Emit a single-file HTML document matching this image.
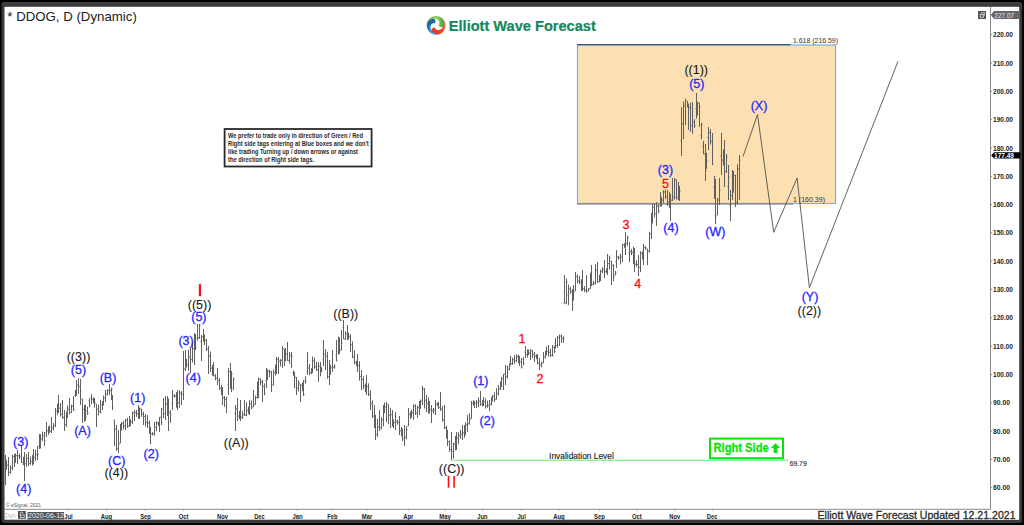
<!DOCTYPE html>
<html><head><meta charset="utf-8"><style>
html,body{margin:0;padding:0;background:#000;width:1024px;height:525px;overflow:hidden}
svg{display:block}
text{font-family:"Liberation Sans",sans-serif}
</style></head><body>
<svg width="1024" height="525" viewBox="0 0 1024 525">
<rect width="1024" height="525" fill="#000"/>
<rect x="1.5" y="2" width="520.6" height="521" rx="3" fill="#3a3a3a"/>
<rect x="503" y="2" width="519.1" height="521" rx="3" fill="#3a3a3a"/>
<rect x="2.5" y="2.5" width="1019" height="1.2" fill="#444"/>
<rect x="4.5" y="6.8" width="1014.7" height="512.9" fill="#fff"/>
<!-- orange box -->
<rect x="577.5" y="45" width="258" height="158.5" fill="#fde0b2" stroke="#6ab4f0" stroke-width="1.2"/>
<rect x="577" y="203" width="216" height="1.6" fill="#8c8c8c"/>
<line x1="577" y1="44.6" x2="790.5" y2="44.6" stroke="#4a5060" stroke-width="1.2"/>

<text x="793" y="43.3" font-size="7.6" fill="#333" textLength="45" lengthAdjust="spacingAndGlyphs">1.618 (216.59)</text>
<text x="793" y="202" font-size="7" fill="#333" textLength="32" lengthAdjust="spacingAndGlyphs">1 (160.39)</text>
<!-- invalidation -->
<line x1="451.7" y1="460.2" x2="788.4" y2="460.2" stroke="#6aeb6a" stroke-width="1.1"/>
<text x="549.1" y="458.8" font-size="9.5" fill="#222" stroke="#222" stroke-width="0.15" textLength="64.7" lengthAdjust="spacingAndGlyphs">Invalidation Level</text>
<text x="789.7" y="466" font-size="7" fill="#333" stroke="#333" stroke-width="0.15" textLength="17" lengthAdjust="spacingAndGlyphs">69.79</text>
<!-- right side -->
<rect x="710" y="438.6" width="73" height="19.6" fill="none" stroke="#0ae40a" stroke-width="2"/>
<text x="713.5" y="452.2" font-size="13" font-weight="bold" fill="#0ae40a" stroke="#0ae40a" stroke-width="0.3" textLength="55.2" lengthAdjust="spacingAndGlyphs">Right Side</text>
<path d="M775.5 443.3 L780.2 448 L777.4 448 L777.4 452.9 L773.6 452.9 L773.6 448 L770.8 448 Z" fill="#0ae40a"/>
<!-- bars -->
<path d="M5.50 455.0V485.0M4.50 470.0h1M5.50 467.6h1M6.50 459.8V469.7M5.50 467.6h1M6.50 465.0h1M8.50 457.0V476.0M7.50 465.0h1M8.50 472.3h1M10.50 465.3V473.8M9.50 472.3h1M10.50 467.7h1M12.50 454.7V470.1M11.50 467.7h1M12.50 456.4h1M14.50 454.0V467.0M13.50 456.4h1M14.50 461.0h1M15.50 453.3V462.9M14.50 461.0h1M15.50 455.5h1M17.50 450.0V464.0M16.50 455.5h1M17.50 455.8h1M19.50 453.6V459.3M18.50 455.8h1M19.50 456.3h1M21.50 445.0V463.0M20.50 456.3h1M21.50 462.4h1M23.50 456.7V465.1M22.50 462.4h1M23.50 461.2h1M24.50 452.0V481.0M23.50 461.2h1M24.50 463.8h1M26.50 454.1V466.7M25.50 463.8h1M26.50 458.6h1M28.50 452.0V466.0M27.50 458.6h1M28.50 463.5h1M30.50 456.6V464.8M29.50 463.5h1M30.50 461.5h1M32.50 455.1V465.4M31.50 461.5h1M32.50 463.7h1M33.50 449.0V464.2M32.50 463.7h1M33.50 457.6h1M35.50 449.7V460.9M34.50 457.6h1M35.50 454.6h1M37.50 446.0V460.0M36.50 454.6h1M37.50 454.5h1M39.50 434.0V449.0M38.50 446.1h1M39.50 446.9h1M40.50 434.1V448.5M39.50 446.9h1M40.50 438.8h1M42.50 431.6V441.2M41.50 438.8h1M42.50 435.7h1M44.50 432.0V446.0M43.50 435.7h1M44.50 440.4h1M46.50 422.0V437.0M45.50 432.4h1M46.50 430.8h1M48.50 426.4V434.8M47.50 430.8h1M48.50 429.5h1M49.50 425.5V433.0M48.50 429.5h1M49.50 431.4h1M51.50 417.0V433.0M50.50 431.4h1M51.50 427.7h1M53.50 423.2V430.4M52.50 427.7h1M53.50 425.8h1M55.50 408.0V427.0M54.50 425.8h1M55.50 411.0h1M57.50 403.7V415.2M56.50 411.0h1M57.50 412.1h1M58.50 395.0V413.0M57.50 412.1h1M58.50 408.2h1M60.50 403.0V416.6M59.50 408.2h1M60.50 414.2h1M62.50 400.0V419.0M61.50 414.2h1M62.50 417.3h1M64.50 410.0V431.0M63.50 417.3h1M64.50 424.7h1M66.50 411.6V426.9M65.50 424.7h1M66.50 414.2h1M67.50 405.3V418.3M66.50 414.2h1M67.50 409.2h1M69.50 398.0V414.4M68.50 409.2h1M69.50 412.6h1M71.50 404.6V412.9M70.50 412.6h1M71.50 406.2h1M73.50 396.0V411.0M72.50 406.2h1M73.50 409.8h1M75.50 389.9V396.9M74.50 395.0h1M75.50 392.1h1M76.50 380.0V396.0M75.50 392.1h1M76.50 385.0h1M78.50 378.0V394.0M77.50 385.0h1M78.50 386.7h1M80.50 379.0V405.0M79.50 386.7h1M80.50 391.2h1M82.50 399.0V423.0M81.50 399.0h1M82.50 409.4h1M84.50 404.8V421.6M83.50 409.4h1M84.50 418.9h1M85.50 405.0V421.0M84.50 418.9h1M85.50 417.3h1M87.50 406.6V414.9M86.50 410.7h1M87.50 413.3h1M89.50 398.2V407.3M88.50 400.7h1M89.50 405.1h1M91.50 394.3V404.0M90.50 398.0h1M91.50 399.6h1M93.50 397.5V403.3M92.50 399.6h1M93.50 402.0h1M94.50 398.0V407.7M93.50 402.0h1M94.50 402.2h1M96.50 404.0V427.0M95.50 404.0h1M96.50 409.2h1M98.50 404.8V415.4M97.50 409.2h1M98.50 411.4h1M100.50 400.0V413.0M99.50 411.4h1M100.50 413.0h1M102.50 401.1V410.0M101.50 404.9h1M102.50 403.6h1M103.50 395.5V405.5M102.50 403.6h1M103.50 398.0h1M105.50 390.0V402.0M104.50 398.0h1M105.50 394.2h1M107.50 389.0V395.5M106.50 394.2h1M107.50 390.7h1M109.50 384.0V395.0M108.50 390.7h1M109.50 390.4h1M111.50 387.5V400.0M110.50 390.4h1M111.50 389.1h1M112.50 395.0V410.0M111.50 399.2h1M112.50 406.6h1M114.50 420.0V446.0M113.50 420.0h1M114.50 429.1h1M116.50 424.9V450.8M115.50 429.1h1M116.50 448.7h1M118.50 430.0V453.0M117.50 448.7h1M118.50 444.0h1M120.50 424.0V443.0M119.50 443.0h1M120.50 429.3h1M121.50 422.0V430.7M120.50 429.3h1M121.50 423.8h1M123.50 420.7V429.3M122.50 423.8h1M123.50 426.3h1M125.50 419.0V430.0M124.50 426.3h1M125.50 420.0h1M127.50 417.9V428.0M126.50 420.0h1M127.50 426.3h1M129.50 416.0V427.0M128.50 426.3h1M129.50 424.2h1M130.50 419.3V426.0M129.50 424.2h1M130.50 421.5h1M132.50 411.6V424.1M131.50 421.5h1M132.50 413.2h1M134.50 410.0V421.0M133.50 413.2h1M134.50 412.5h1M136.50 409.8V416.9M135.50 412.5h1M136.50 413.7h1M138.50 405.0V419.0M137.50 413.7h1M138.50 416.1h1M139.50 407.4V418.9M138.50 416.1h1M139.50 409.0h1M141.50 408.9V416.8M140.50 409.0h1M141.50 414.1h1M143.50 411.8V425.0M142.50 414.1h1M143.50 416.4h1M145.50 414.1V426.5M144.50 416.4h1M145.50 422.3h1M147.50 415.0V428.0M146.50 422.3h1M147.50 423.3h1M149.50 420.6V433.6M148.50 423.3h1M149.50 431.0h1M150.50 426.8V444.0M149.50 431.0h1M150.50 433.7h1M152.50 432.2V435.5M151.50 433.7h1M152.50 433.8h1M154.50 422.0V435.6M153.50 433.8h1M154.50 427.3h1M156.50 421.2V431.4M155.50 427.3h1M156.50 423.1h1M158.50 421.7V426.0M157.50 423.1h1M158.50 423.7h1M159.50 417.0V432.0M158.50 423.7h1M159.50 417.3h1M161.50 408.0V425.0M160.50 417.3h1M161.50 422.6h1M163.50 398.0V418.0M162.50 409.1h1M163.50 413.6h1M165.50 396.0V420.0M164.50 413.6h1M165.50 404.1h1M167.50 396.1V416.0M166.50 404.1h1M167.50 398.8h1M168.50 399.0V431.0M167.50 399.0h1M168.50 412.6h1M170.50 410.1V422.8M169.50 412.6h1M170.50 414.3h1M172.50 390.0V410.0M171.50 403.4h1M172.50 395.9h1M174.50 394.2V397.5M173.50 395.9h1M174.50 396.3h1M176.50 392.1V407.7M175.50 396.3h1M176.50 401.2h1M177.50 390.0V410.0M176.50 401.2h1M177.50 402.8h1M179.50 390.3V407.7M178.50 402.8h1M179.50 392.9h1M181.50 391.1V405.0M180.50 392.9h1M181.50 394.3h1M183.50 351.0V400.0M182.50 394.3h1M183.50 368.9h1M185.50 350.0V371.0M184.50 368.9h1M185.50 361.4h1M186.50 358.9V367.5M185.50 361.4h1M186.50 364.2h1M188.50 349.7V370.6M187.50 364.2h1M188.50 356.9h1M190.50 348.0V373.0M189.50 356.9h1M190.50 359.4h1M192.50 341.4V362.4M191.50 359.4h1M192.50 348.6h1M194.50 333.0V365.0M193.50 348.6h1M194.50 347.6h1M195.50 334.0V350.0M194.50 347.6h1M195.50 347.0h1M197.50 324.0V340.8M196.50 338.1h1M197.50 338.0h1M199.50 324.0V339.0M198.50 338.0h1M199.50 325.3h1M201.50 335.0V361.0M200.50 341.6h1M201.50 336.9h1M203.50 329.0V341.6M202.50 336.9h1M203.50 334.7h1M204.50 335.0V345.0M203.50 335.0h1M204.50 340.4h1M206.50 339.0V351.0M205.50 340.4h1M206.50 348.9h1M208.50 346.0V374.0M207.50 348.9h1M208.50 356.1h1M210.50 351.5V372.1M209.50 356.1h1M210.50 368.2h1M212.50 364.9V375.7M211.50 368.2h1M212.50 373.5h1M213.50 362.0V376.0M212.50 373.5h1M213.50 375.9h1M215.50 374.2V380.3M214.50 375.9h1M215.50 378.4h1M217.50 368.0V385.0M216.50 378.4h1M217.50 380.6h1M219.50 378.0V390.0M218.50 380.6h1M219.50 388.0h1M221.50 384.8V395.1M220.50 388.0h1M221.50 392.1h1M222.50 387.0V405.0M221.50 392.1h1M222.50 397.8h1M224.50 396.0V406.9M223.50 397.8h1M224.50 399.3h1M226.50 397.0V413.0M225.50 399.3h1M226.50 397.8h1M228.50 368.0V395.0M227.50 384.2h1M228.50 371.4h1M230.50 363.0V389.0M229.50 371.4h1M230.50 378.6h1M231.50 371.0V392.0M230.50 378.6h1M231.50 374.0h1M233.50 377.4V390.3M232.50 388.0h1M233.50 379.4h1M235.50 405.0V431.0M234.50 413.5h1M235.50 408.7h1M237.50 398.0V421.0M236.50 408.7h1M237.50 416.1h1M239.50 410.9V419.3M238.50 416.1h1M239.50 417.5h1M240.50 400.0V421.0M239.50 417.5h1M240.50 417.3h1M242.50 410.7V419.0M241.50 417.3h1M242.50 414.7h1M244.50 400.0V416.0M243.50 414.7h1M244.50 415.0h1M246.50 402.3V416.0M245.50 415.0h1M246.50 410.3h1M248.50 406.5V413.9M247.50 410.3h1M248.50 412.7h1M249.50 400.0V415.0M248.50 412.7h1M249.50 403.7h1M251.50 400.4V409.2M250.50 403.7h1M251.50 407.9h1M253.50 390.0V407.0M252.50 407.0h1M253.50 405.2h1M255.50 395.6V404.6M254.50 404.6h1M255.50 397.5h1M257.50 381.8V398.7M256.50 397.5h1M257.50 385.1h1M258.50 377.4V398.0M257.50 385.1h1M258.50 379.4h1M260.50 378.3V385.3M259.50 379.4h1M260.50 382.0h1M262.50 379.9V402.0M261.50 382.0h1M262.50 386.5h1M264.50 383.4V395.3M263.50 386.5h1M264.50 393.3h1M266.50 368.0V388.0M265.50 380.3h1M266.50 375.5h1M267.50 369.3V379.9M266.50 375.5h1M267.50 371.1h1M269.50 369.9V377.2M268.50 371.1h1M269.50 371.9h1M271.50 371.0V392.0M270.50 371.9h1M271.50 385.1h1M273.50 369.6V385.1M272.50 385.1h1M273.50 372.4h1M275.50 364.5V375.6M274.50 372.4h1M275.50 366.8h1M276.50 357.0V374.0M275.50 366.8h1M276.50 359.6h1M278.50 357.0V374.0M277.50 359.6h1M278.50 361.3h1M280.50 359.1V366.3M279.50 361.3h1M280.50 360.4h1M282.50 346.2V368.0M281.50 360.4h1M282.50 348.3h1M284.50 349.0V366.0M283.50 349.0h1M284.50 358.8h1M285.50 348.0V361.3M284.50 358.8h1M285.50 354.0h1M287.50 342.0V361.0M286.50 354.0h1M287.50 360.5h1M289.50 351.9V363.7M288.50 360.5h1M289.50 355.3h1M291.50 352.0V368.0M290.50 355.3h1M291.50 356.6h1M293.50 370.4V375.8M292.50 372.4h1M293.50 374.5h1M294.50 372.0V388.0M293.50 374.5h1M294.50 377.3h1M296.50 377.0V395.0M295.50 377.3h1M296.50 388.0h1M298.50 380.5V391.4M297.50 388.0h1M298.50 382.8h1M300.50 384.0V402.0M299.50 384.0h1M300.50 385.3h1M302.50 382.6V391.3M301.50 385.3h1M302.50 388.9h1M303.50 380.0V396.0M302.50 388.9h1M303.50 394.6h1M305.50 376.2V383.4M304.50 380.8h1M305.50 381.5h1M307.50 352.0V375.0M306.50 372.0h1M307.50 368.0h1M309.50 364.0V375.3M308.50 368.0h1M309.50 372.7h1M311.50 368.1V374.2M310.50 372.7h1M311.50 369.8h1M312.50 356.5V373.0M311.50 369.8h1M312.50 360.9h1M314.50 357.6V368.7M313.50 360.9h1M314.50 366.9h1M316.50 361.9V371.0M315.50 366.9h1M316.50 369.7h1M318.50 362.0V382.0M317.50 369.7h1M318.50 366.2h1M320.50 362.1V376.3M319.50 366.2h1M320.50 368.5h1M321.50 367.2V372.2M320.50 368.5h1M321.50 370.1h1M323.50 340.0V366.0M322.50 359.1h1M323.50 354.3h1M325.50 349.0V370.1M324.50 354.3h1M325.50 356.4h1M327.50 351.8V378.8M326.50 356.4h1M327.50 376.6h1M329.50 360.0V385.0M328.50 376.6h1M329.50 370.7h1M330.50 364.8V374.8M329.50 370.7h1M330.50 367.8h1M332.50 350.0V372.0M331.50 367.8h1M332.50 367.2h1M334.50 364.2V368.8M333.50 367.2h1M334.50 366.7h1M336.50 340.0V361.0M335.50 355.4h1M336.50 361.0h1M338.50 336.5V354.8M337.50 351.9h1M338.50 340.3h1M339.50 337.4V354.0M338.50 340.3h1M339.50 350.3h1M341.50 330.0V350.0M340.50 350.0h1M341.50 343.5h1M343.50 320.0V339.0M342.50 327.8h1M343.50 339.0h1M345.50 331.3V339.8M344.50 339.0h1M345.50 333.9h1M347.50 325.0V340.0M346.50 333.9h1M347.50 337.3h1M348.50 332.5V339.5M347.50 337.3h1M348.50 336.3h1M350.50 334.3V352.0M349.50 336.3h1M350.50 344.7h1M352.50 341.4V358.2M351.50 344.7h1M352.50 357.0h1M354.50 350.0V364.4M353.50 357.0h1M354.50 362.5h1M356.50 360.8V366.2M355.50 362.5h1M356.50 363.8h1M357.50 354.0V372.0M356.50 363.8h1M357.50 365.7h1M359.50 361.3V380.7M358.50 365.7h1M359.50 376.5h1M361.50 370.0V390.0M360.50 376.5h1M361.50 379.6h1M363.50 376.2V389.2M362.50 379.6h1M363.50 385.8h1M365.50 383.5V392.3M364.50 385.8h1M365.50 389.4h1M366.50 375.0V395.0M365.50 389.4h1M366.50 386.4h1M368.50 383.3V396.0M367.50 386.4h1M368.50 394.4h1M370.50 390.0V410.0M369.50 394.4h1M370.50 403.7h1M372.50 400.5V417.9M371.50 403.7h1M372.50 416.1h1M374.50 405.0V428.0M373.50 416.1h1M374.50 419.0h1M375.50 414.8V440.0M374.50 419.0h1M375.50 434.4h1M377.50 418.7V437.0M376.50 434.4h1M377.50 427.0h1M379.50 410.0V431.0M378.50 427.0h1M379.50 427.9h1M381.50 417.1V429.4M380.50 427.9h1M381.50 419.8h1M383.50 405.1V426.3M382.50 419.8h1M383.50 407.0h1M384.50 402.6V413.0M383.50 407.0h1M384.50 406.8h1M386.50 401.9V422.0M385.50 406.8h1M386.50 403.9h1M388.50 404.6V424.2M387.50 404.6h1M388.50 415.2h1M390.50 408.0V428.0M389.50 415.2h1M390.50 414.7h1M392.50 410.1V426.5M391.50 414.7h1M392.50 421.4h1M393.50 419.4V428.2M392.50 421.4h1M393.50 422.7h1M395.50 412.0V430.0M394.50 422.7h1M395.50 421.2h1M397.50 419.7V424.7M396.50 421.2h1M397.50 422.4h1M399.50 416.0V435.0M398.50 422.4h1M399.50 430.8h1M401.50 427.0V436.4M400.50 430.8h1M401.50 434.9h1M402.50 428.4V441.1M401.50 434.9h1M402.50 438.6h1M404.50 425.0V446.0M403.50 438.6h1M404.50 436.9h1M406.50 426.2V439.4M405.50 436.9h1M406.50 429.7h1M408.50 408.0V426.0M407.50 426.0h1M408.50 414.2h1M410.50 411.4V418.9M409.50 414.2h1M410.50 415.1h1M411.50 409.8V417.6M410.50 415.1h1M411.50 412.7h1M413.50 404.2V420.0M412.50 412.7h1M413.50 406.0h1M415.50 404.4V415.0M414.50 406.0h1M415.50 413.0h1M417.50 405.7V417.8M416.50 413.0h1M417.50 407.6h1M419.50 401.0V415.0M418.50 407.6h1M419.50 404.9h1M420.50 399.5V408.9M419.50 404.9h1M420.50 401.2h1M422.50 386.0V405.0M421.50 401.2h1M422.50 389.0h1M424.50 388.2V408.5M423.50 389.0h1M424.50 400.2h1M426.50 395.0V412.0M425.50 400.2h1M426.50 403.7h1M428.50 397.4V413.7M427.50 403.7h1M428.50 408.8h1M429.50 401.0V413.4M428.50 408.8h1M429.50 409.7h1M431.50 405.0V423.0M430.50 409.7h1M431.50 410.7h1M433.50 408.1V413.4M432.50 410.7h1M433.50 410.0h1M435.50 400.0V415.0M434.50 410.0h1M435.50 404.1h1M437.50 402.7V406.2M436.50 404.1h1M437.50 404.5h1M438.50 401.8V409.0M437.50 404.5h1M438.50 407.4h1M440.50 392.0V411.0M439.50 407.4h1M440.50 409.0h1M442.50 406.1V421.8M441.50 409.0h1M442.50 419.8h1M444.50 405.0V429.0M443.50 419.8h1M444.50 427.8h1M446.50 425.6V438.7M445.50 427.8h1M446.50 436.8h1M447.50 430.0V446.0M446.50 436.8h1M447.50 441.6h1M449.50 440.3V451.9M448.50 441.6h1M449.50 449.6h1M451.50 432.0V460.0M450.50 449.6h1M451.50 451.4h1M453.50 442.6V458.6M452.50 451.4h1M453.50 444.0h1M455.50 436.0V450.3M454.50 444.0h1M455.50 439.8h1M456.50 432.0V450.0M455.50 439.8h1M456.50 438.1h1M458.50 432.1V444.3M457.50 438.1h1M458.50 435.5h1M460.50 429.9V438.7M459.50 435.5h1M460.50 434.5h1M462.50 425.0V440.0M461.50 434.5h1M462.50 432.9h1M464.50 425.1V437.8M463.50 432.9h1M464.50 434.9h1M465.50 422.2V434.9M464.50 434.9h1M465.50 424.8h1M467.50 415.0V432.0M466.50 424.8h1M467.50 423.8h1M469.50 413.3V424.6M468.50 423.8h1M469.50 419.0h1M471.50 401.0V418.6M470.50 418.6h1M471.50 403.2h1M473.50 400.2V405.5M472.50 403.2h1M473.50 404.1h1M474.50 401.1V408.0M473.50 404.1h1M474.50 403.2h1M476.50 400.0V408.0M475.50 403.2h1M476.50 402.4h1M478.50 397.3V407.2M477.50 402.4h1M478.50 401.1h1M480.50 391.0V405.7M479.50 401.1h1M480.50 404.4h1M482.50 399.9V406.5M481.50 404.4h1M482.50 403.1h1M483.50 397.0V406.0M482.50 403.1h1M483.50 401.5h1M485.50 398.4V408.6M484.50 401.5h1M485.50 406.0h1M487.50 400.6V407.7M486.50 406.0h1M487.50 405.4h1M489.50 400.0V411.0M488.50 405.4h1M489.50 404.1h1M491.50 397.2V405.4M490.50 404.1h1M491.50 399.1h1M492.50 395.1V401.5M491.50 399.1h1M492.50 396.4h1M494.50 392.4V402.0M493.50 396.4h1M494.50 399.0h1M496.50 388.2V399.6M495.50 399.0h1M496.50 393.5h1M498.50 385.0V395.6M497.50 393.5h1M498.50 388.8h1M500.50 381.5V390.0M499.50 388.8h1M500.50 383.1h1M501.50 377.0V387.1M500.50 383.1h1M501.50 378.7h1M503.50 374.0V390.0M502.50 378.7h1M503.50 374.0h1M505.50 365.0V385.0M504.50 374.0h1M505.50 376.4h1M507.50 365.6V378.8M506.50 376.4h1M507.50 369.3h1M509.50 363.3V370.2M508.50 369.3h1M509.50 366.0h1M510.50 356.0V365.0M509.50 361.7h1M510.50 363.6h1M512.50 357.8V365.0M511.50 363.6h1M512.50 359.7h1M514.50 355.0V364.0M513.50 359.7h1M514.50 360.7h1M516.50 354.2V362.0M515.50 360.7h1M516.50 356.8h1M518.50 354.6V363.2M517.50 356.8h1M518.50 359.7h1M519.50 356.0V366.0M518.50 359.7h1M519.50 361.8h1M521.50 358.0V368.5M520.50 361.8h1M521.50 367.1h1M523.50 357.1V365.3M522.50 359.4h1M523.50 363.6h1M525.50 346.0V358.0M524.50 352.2h1M525.50 354.6h1M527.50 349.4V357.5M526.50 354.6h1M527.50 352.3h1M528.50 349.5V355.0M527.50 352.3h1M528.50 353.1h1M530.50 349.2V360.0M529.50 353.1h1M530.50 350.7h1M532.50 350.0V358.2M531.50 350.7h1M532.50 354.3h1M534.50 352.0V362.0M533.50 354.3h1M534.50 356.2h1M536.50 354.2V359.1M535.50 356.2h1M536.50 356.2h1M537.50 354.4V364.4M536.50 356.2h1M537.50 363.0h1M539.50 358.0V370.0M538.50 363.0h1M539.50 364.8h1M541.50 361.7V367.3M540.50 364.8h1M541.50 363.3h1M543.50 352.0V363.0M542.50 363.0h1M543.50 356.8h1M545.50 350.7V358.7M544.50 356.8h1M545.50 354.0h1M546.50 346.6V355.4M545.50 354.0h1M546.50 351.2h1M548.50 345.0V356.8M547.50 351.2h1M548.50 352.3h1M550.50 348.9V357.0M549.50 352.3h1M550.50 355.4h1M552.50 345.0V356.6M551.50 355.4h1M552.50 355.1h1M554.50 345.7V353.0M553.50 347.4h1M554.50 351.5h1M555.50 338.0V348.5M554.50 342.9h1M555.50 345.5h1M557.50 335.9V347.8M556.50 345.5h1M557.50 337.6h1M559.50 334.4V346.0M558.50 337.6h1M559.50 336.0h1M561.50 334.7V343.0M560.50 336.0h1M561.50 338.6h1M563.50 336.2V343.0M562.50 338.6h1M563.50 337.8h1M564.50 275.0V303.0M563.50 303.0h1M564.50 303.0h1M566.50 278.4V304.3M565.50 303.0h1M566.50 282.0h1M568.50 284.5V305.0M567.50 294.7h1M568.50 288.9h1M570.50 286.8V293.7M569.50 288.9h1M570.50 291.8h1M572.50 289.0V311.0M571.50 291.8h1M572.50 298.8h1M573.50 285.1V300.7M572.50 298.8h1M573.50 292.2h1M575.50 272.0V291.0M574.50 291.0h1M575.50 276.7h1M577.50 274.5V283.5M576.50 276.7h1M577.50 281.0h1M579.50 276.1V284.3M578.50 281.0h1M579.50 281.7h1M581.50 279.2V291.0M580.50 281.7h1M581.50 289.0h1M582.50 270.0V291.0M581.50 289.0h1M582.50 288.6h1M584.50 286.2V292.0M583.50 288.6h1M584.50 290.1h1M586.50 275.0V292.8M585.50 290.1h1M586.50 290.9h1M588.50 288.1V291.3M587.50 290.9h1M588.50 289.4h1M590.50 272.7V288.8M589.50 288.8h1M590.50 277.8h1M591.50 265.0V286.0M590.50 277.8h1M591.50 284.3h1M593.50 280.8V285.2M592.50 284.3h1M593.50 283.2h1M595.50 264.2V284.3M594.50 283.2h1M595.50 270.1h1M597.50 262.0V283.0M596.50 270.1h1M597.50 281.4h1M599.50 274.8V282.3M598.50 281.4h1M599.50 279.2h1M600.50 269.7V281.1M599.50 279.2h1M600.50 271.2h1M602.50 267.2V273.2M601.50 271.2h1M602.50 269.2h1M604.50 260.0V278.0M603.50 269.2h1M604.50 271.6h1M606.50 268.5V273.2M605.50 271.6h1M606.50 271.0h1M607.50 254.0V275.0M606.50 271.0h1M607.50 263.6h1M609.50 255.6V269.5M608.50 263.6h1M609.50 257.9h1M611.50 261.0V285.0M610.50 261.0h1M611.50 265.6h1M613.50 264.2V281.2M612.50 265.6h1M613.50 276.9h1M615.50 271.0V275.1M614.50 275.1h1M615.50 273.1h1M616.50 250.0V268.0M615.50 261.4h1M616.50 257.0h1M618.50 255.8V259.8M617.50 257.0h1M618.50 257.6h1M620.50 253.7V264.4M619.50 257.6h1M620.50 257.0h1M622.50 244.0V262.0M621.50 257.0h1M622.50 244.6h1M624.50 243.2V247.8M623.50 244.6h1M624.50 244.7h1M625.50 232.0V255.0M624.50 244.7h1M625.50 243.1h1M627.50 235.7V246.1M626.50 243.1h1M627.50 237.6h1M629.50 242.0V262.0M628.50 252.7h1M629.50 251.4h1M631.50 248.8V255.2M630.50 251.4h1M631.50 252.4h1M633.50 246.6V264.3M632.50 252.4h1M633.50 260.4h1M634.50 248.0V272.0M633.50 260.4h1M634.50 264.3h1M636.50 260.3V266.8M635.50 264.3h1M636.50 264.5h1M638.50 255.0V276.0M637.50 264.5h1M638.50 267.4h1M640.50 251.3V272.2M639.50 267.4h1M640.50 253.2h1M642.50 251.5V259.5M641.50 253.2h1M642.50 255.5h1M643.50 244.0V265.0M642.50 255.5h1M643.50 247.4h1M645.50 246.2V249.6M644.50 247.4h1M645.50 248.1h1M647.50 249.0V265.0M646.50 249.0h1M647.50 251.1h1M649.50 231.8V252.4M648.50 251.1h1M649.50 233.7h1M651.50 213.0V239.0M650.50 233.7h1M651.50 223.8h1M652.50 204.0V223.0M651.50 223.0h1M652.50 207.3h1M654.50 203.0V217.4M653.50 207.3h1M654.50 213.7h1M656.50 202.1V226.0M655.50 213.7h1M656.50 206.1h1M658.50 204.6V213.4M657.50 206.1h1M658.50 211.2h1M660.50 192.0V206.0M659.50 206.0h1M660.50 206.0h1M661.50 196.7V206.2M660.50 206.0h1M661.50 200.1h1M663.50 190.1V203.0M662.50 200.1h1M663.50 191.9h1M665.50 189.6V199.2M664.50 191.9h1M665.50 196.8h1M667.50 190.0V206.0M666.50 196.8h1M667.50 202.0h1M669.50 191.8V208.1M668.50 202.0h1M669.50 194.9h1M670.50 194.0V221.0M669.50 194.9h1M670.50 200.2h1M672.50 178.0V201.0M671.50 200.2h1M672.50 197.0h1M674.50 177.9V199.7M673.50 197.0h1M674.50 179.9h1M676.50 179.3V199.5M675.50 179.9h1M676.50 198.1h1M678.50 182.0V200.0M677.50 198.1h1M678.50 193.9h1M679.50 186.0V201.0M678.50 193.9h1M679.50 191.1h1M681.50 107.0V156.0M680.50 140.8h1M681.50 123.7h1M683.50 101.4V139.2M682.50 123.7h1M683.50 105.6h1M685.50 98.6V125.0M684.50 105.6h1M685.50 100.9h1M687.50 101.3V107.5M686.50 101.3h1M687.50 103.6h1M688.50 104.0V130.0M687.50 104.0h1M688.50 107.4h1M690.50 102.7V131.8M689.50 107.4h1M690.50 125.6h1M692.50 102.0V133.7M691.50 125.6h1M692.50 122.0h1M694.50 119.2V128.0M693.50 122.0h1M694.50 125.6h1M696.50 93.0V118.7M695.50 109.0h1M696.50 112.9h1M697.50 101.7V115.6M696.50 112.9h1M697.50 103.0h1M699.50 103.0V127.0M698.50 103.0h1M699.50 106.8h1M701.50 122.7V139.3M700.50 135.7h1M701.50 124.6h1M703.50 141.0V154.0M702.50 146.4h1M703.50 154.0h1M705.50 144.0V181.0M704.50 154.0h1M705.50 171.2h1M706.50 152.8V168.7M705.50 168.7h1M706.50 161.0h1M708.50 127.0V150.0M707.50 137.4h1M708.50 132.7h1M710.50 129.2V144.5M709.50 132.7h1M710.50 141.2h1M712.50 133.0V165.0M711.50 141.2h1M712.50 164.2h1M714.50 176.0V199.0M713.50 187.0h1M714.50 188.5h1M715.50 179.0V224.0M714.50 188.5h1M715.50 217.0h1M717.50 197.8V215.1M716.50 215.1h1M717.50 200.0h1M719.50 178.0V205.0M718.50 200.0h1M719.50 190.4h1M721.50 133.0V175.0M720.50 156.0h1M721.50 160.1h1M723.50 149.4V165.5M722.50 160.1h1M723.50 152.6h1M724.50 140.0V187.0M723.50 152.6h1M724.50 171.6h1M726.50 154.0V173.0M725.50 171.6h1M726.50 157.0h1M728.50 165.0V200.0M727.50 186.4h1M728.50 176.7h1M730.50 190.0V221.0M729.50 205.3h1M730.50 195.7h1M732.50 170.0V200.0M731.50 195.7h1M732.50 186.7h1M733.50 171.0V192.7M732.50 186.7h1M733.50 175.3h1M735.50 175.0V207.0M734.50 175.3h1M735.50 202.0h1M737.50 164.3V204.3M736.50 202.0h1M737.50 168.9h1M739.50 155.0V200.0M738.50 168.9h1M739.50 160.3h1" stroke="#606060" stroke-width="1" fill="none"/>
<!-- projection -->
<polyline points="743,156.5 757.5,114.5 773.7,232.3 797.1,178 809.4,287.7 898,61.3" fill="none" stroke="#505050" stroke-width="0.9"/>
<!-- labels -->
<g font-size="12.5" text-anchor="middle"><text x="20.75" y="445.8" fill="#2626ff" stroke="#2626ff" stroke-width="0.3">(3)</text><text x="23.75" y="493.0" fill="#2626ff" stroke="#2626ff" stroke-width="0.3">(4)</text><text x="78.5" y="374.2" fill="#2626ff" stroke="#2626ff" stroke-width="0.3">(5)</text><text x="78.5" y="360.5" fill="#1a1a1a" stroke="#1a1a1a" stroke-width="0.12">((3))</text><text x="82.5" y="434.5" fill="#2626ff" stroke="#2626ff" stroke-width="0.3">(A)</text><text x="108" y="381.8" fill="#2626ff" stroke="#2626ff" stroke-width="0.3">(B)</text><text x="116.75" y="465.0" fill="#2626ff" stroke="#2626ff" stroke-width="0.3">(C)</text><text x="116.25" y="477.4" fill="#1a1a1a" stroke="#1a1a1a" stroke-width="0.12">((4))</text><text x="137.75" y="402.0" fill="#2626ff" stroke="#2626ff" stroke-width="0.3">(1)</text><text x="151.25" y="457.5" fill="#2626ff" stroke="#2626ff" stroke-width="0.3">(2)</text><text x="186.1" y="344.6" fill="#2626ff" stroke="#2626ff" stroke-width="0.3">(3)</text><text x="193.25" y="382.0" fill="#2626ff" stroke="#2626ff" stroke-width="0.3">(4)</text><text x="198.9" y="320.9" fill="#2626ff" stroke="#2626ff" stroke-width="0.3">(5)</text><text x="199.6" y="308.8" fill="#1a1a1a" stroke="#1a1a1a" stroke-width="0.12">((5))</text><text x="236.25" y="446.5" fill="#1a1a1a" stroke="#1a1a1a" stroke-width="0.12">((A))</text><text x="345.8" y="317.5" fill="#1a1a1a" stroke="#1a1a1a" stroke-width="0.12">((B))</text><text x="451.7" y="473.2" fill="#1a1a1a" stroke="#1a1a1a" stroke-width="0.12">((C))</text><text x="480.8" y="385.1" fill="#2626ff" stroke="#2626ff" stroke-width="0.3">(1)</text><text x="487.2" y="424.6" fill="#2626ff" stroke="#2626ff" stroke-width="0.3">(2)</text><text x="522" y="342.5" fill="#ff0a14" stroke="#ff0a14" stroke-width="0.3">1</text><text x="540" y="382.8" fill="#ff0a14" stroke="#ff0a14" stroke-width="0.3">2</text><text x="625.9" y="229.3" fill="#ff0a14" stroke="#ff0a14" stroke-width="0.3">3</text><text x="637.7" y="288.4" fill="#ff0a14" stroke="#ff0a14" stroke-width="0.3">4</text><text x="665.5" y="188.3" fill="#ff0a14" stroke="#ff0a14" stroke-width="0.3">5</text><text x="665.5" y="173.8" fill="#2626ff" stroke="#2626ff" stroke-width="0.3">(3)</text><text x="671" y="232.2" fill="#2626ff" stroke="#2626ff" stroke-width="0.3">(4)</text><text x="696.2" y="74.4" fill="#1a1a1a" stroke="#1a1a1a" stroke-width="0.12">((1))</text><text x="696.8" y="88.1" fill="#2626ff" stroke="#2626ff" stroke-width="0.3">(5)</text><text x="715.3" y="235.8" fill="#2626ff" stroke="#2626ff" stroke-width="0.3">(W)</text><text x="759" y="110.2" fill="#2626ff" stroke="#2626ff" stroke-width="0.3">(X)</text><text x="810" y="300.9" fill="#2626ff" stroke="#2626ff" stroke-width="0.3">(Y)</text><text x="809.4" y="315.2" fill="#1a1a1a" stroke="#1a1a1a" stroke-width="0.12">((2))</text></g>
<rect x="198.8" y="284.2" width="2.2" height="12" fill="#ff0a14"/>
<rect x="447.7" y="475.9" width="1.6" height="11.8" fill="#ff0a14"/>
<rect x="453.3" y="475.9" width="1.6" height="11.8" fill="#ff0a14"/>
<!-- note box -->
<rect x="224.6" y="129" width="147" height="37.5" fill="#fff" stroke="#2a2a2a" stroke-width="1.8"/>
<g font-size="6.6" font-weight="bold" fill="#2a2a2a">
<text x="228" y="138" textLength="135" lengthAdjust="spacingAndGlyphs">We prefer to trade only in direction of Green / Red</text>
<text x="228" y="146" textLength="140.7" lengthAdjust="spacingAndGlyphs">Right side tags entering at Blue boxes and we don't</text>
<text x="228" y="153.8" textLength="130" lengthAdjust="spacingAndGlyphs">like trading Turning up / down arrows or against</text>
<text x="228" y="162" textLength="86" lengthAdjust="spacingAndGlyphs">the direction of Right side tags.</text>
</g>
<!-- title -->
<text x="7.3" y="21" font-size="13" fill="#222" textLength="129.5" lengthAdjust="spacingAndGlyphs">* DDOG, D (Dynamic)</text>
<!-- logo -->
<defs>
<linearGradient id="gg" x1="0" y1="0" x2="1" y2="0"><stop offset="0" stop-color="#3fa53a"/><stop offset="0.55" stop-color="#9ccf6a"/><stop offset="1" stop-color="#3da83a"/></linearGradient>
<linearGradient id="og" x1="0.7" y1="0" x2="0.2" y2="1"><stop offset="0" stop-color="#f5814d"/><stop offset="1" stop-color="#ee2a1a"/></linearGradient>
<linearGradient id="bg" x1="0.3" y1="0" x2="0.6" y2="1"><stop offset="0" stop-color="#1a4f9e"/><stop offset="1" stop-color="#3cb0e8"/></linearGradient>
</defs><g transform="translate(436.1,25.4)"><path d="M6.04,-7.20 L6.69,-6.61 L7.27,-5.96 L7.79,-5.26 L8.25,-4.51 L8.63,-3.72 L8.94,-2.90 L9.17,-2.06 L9.32,-1.20 L9.39,-0.33 L9.38,0.55 L9.29,1.42 L9.12,2.27 L8.87,3.11 L8.54,3.92 L8.14,4.70 L7.67,5.44 L7.13,6.13 L6.53,6.76 L5.87,7.34 L5.16,7.85 L4.40,8.28 L3.59,8.61 L2.76,8.84 L1.90,8.96 L1.05,8.98 L0.21,8.90 L-0.61,8.72 L-1.39,8.43 L-2.11,8.06 L-2.77,7.61 L-3.42,7.27 L-3.96,6.78 L-4.35,6.16 L-4.57,5.47 L-4.60,4.74 L-4.44,4.02 L-4.11,3.37 L-3.61,2.84 L-3.00,2.44 L-2.30,2.22 L-1.57,2.19 L-0.86,2.35 L-0.73,2.80 L-0.53,3.23 L-0.25,3.62 L0.09,3.95 L0.49,4.23 L0.94,4.44 L1.43,4.59 L1.94,4.65 L2.47,4.64 L2.99,4.55 L3.51,4.39 L4.02,4.17 L4.52,3.88 L5.00,3.55 L5.46,3.15 L5.89,2.70 L6.28,2.20 L6.63,1.65 L6.93,1.06 L7.18,0.42 L7.37,-0.26 L7.49,-0.96 L7.55,-1.70 L7.54,-2.45 L7.46,-3.22 L7.30,-3.99 L7.06,-4.76 L6.75,-5.53 L6.36,-6.29 L5.91,-7.05Z" fill="url(#og)"/><path d="M3.21,8.83 L2.38,9.09 L1.52,9.28 L0.66,9.38 L-0.22,9.40 L-1.09,9.34 L-1.95,9.19 L-2.80,8.97 L-3.62,8.67 L-4.41,8.30 L-5.17,7.85 L-5.87,7.34 L-6.53,6.76 L-7.13,6.13 L-7.67,5.44 L-8.14,4.70 L-8.54,3.92 L-8.87,3.11 L-9.12,2.27 L-9.29,1.42 L-9.38,0.55 L-9.37,-0.33 L-9.25,-1.19 L-9.03,-2.03 L-8.71,-2.83 L-8.30,-3.58 L-7.81,-4.27 L-7.24,-4.89 L-6.61,-5.42 L-5.93,-5.86 L-5.21,-6.20 L-4.59,-6.60 L-3.89,-6.82 L-3.16,-6.85 L-2.45,-6.69 L-1.80,-6.35 L-1.26,-5.86 L-0.87,-5.24 L-0.65,-4.55 L-0.62,-3.82 L-0.78,-3.10 L-1.11,-2.45 L-1.61,-1.92 L-2.06,-2.04 L-2.53,-2.07 L-3.01,-2.03 L-3.47,-1.90 L-3.91,-1.69 L-4.32,-1.40 L-4.69,-1.05 L-5.00,-0.64 L-5.25,-0.18 L-5.44,0.32 L-5.56,0.85 L-5.62,1.40 L-5.63,1.97 L-5.57,2.56 L-5.46,3.15 L-5.29,3.75 L-5.05,4.34 L-4.75,4.92 L-4.38,5.47 L-3.95,6.01 L-3.46,6.51 L-2.91,6.97 L-2.31,7.39 L-1.65,7.76 L-0.94,8.07 L-0.19,8.32 L0.59,8.50 L1.42,8.61 L2.27,8.66 L3.15,8.65Z" fill="url(#bg)"/><path d="M-9.26,-1.63 L-9.07,-2.49 L-8.80,-3.32 L-8.45,-4.12 L-8.03,-4.89 L-7.54,-5.61 L-6.99,-6.29 L-6.37,-6.91 L-5.70,-7.47 L-4.98,-7.97 L-4.22,-8.40 L-3.42,-8.76 L-2.59,-9.04 L-1.74,-9.24 L-0.87,-9.36 L-0.00,-9.40 L0.87,-9.36 L1.74,-9.24 L2.59,-9.04 L3.42,-8.76 L4.22,-8.40 L4.97,-7.95 L5.66,-7.42 L6.27,-6.81 L6.81,-6.13 L7.25,-5.40 L7.60,-4.63 L7.85,-3.83 L8.00,-3.02 L8.04,-2.20 L7.98,-1.41 L8.01,-0.68 L7.85,0.04 L7.51,0.69 L7.02,1.22 L6.40,1.62 L5.71,1.84 L4.98,1.87 L4.26,1.71 L3.61,1.37 L3.07,0.88 L2.68,0.26 L2.46,-0.43 L2.79,-0.77 L3.06,-1.16 L3.26,-1.59 L3.38,-2.06 L3.42,-2.54 L3.38,-3.04 L3.26,-3.53 L3.06,-4.01 L2.79,-4.46 L2.45,-4.87 L2.04,-5.24 L1.60,-5.57 L1.10,-5.86 L0.57,-6.11 L-0.00,-6.31 L-0.60,-6.45 L-1.23,-6.54 L-1.88,-6.57 L-2.55,-6.53 L-3.23,-6.43 L-3.91,-6.25 L-4.58,-6.01 L-5.25,-5.69 L-5.89,-5.31 L-6.52,-4.85 L-7.11,-4.33 L-7.66,-3.74 L-8.17,-3.08 L-8.63,-2.37 L-9.06,-1.60Z" fill="url(#gg)"/></g>
<text x="448.8" y="30.7" font-size="14.5" font-weight="bold" fill="#15875a" stroke="#15875a" stroke-width="0.2" textLength="147" lengthAdjust="spacingAndGlyphs">Elliott Wave Forecast</text>
<!-- axes -->
<line x1="990.5" y1="7" x2="990.5" y2="509.3" stroke="#8a8a8a" stroke-width="1"/>
<line x1="4" y1="509.3" x2="990.5" y2="509.3" stroke="#8a8a8a" stroke-width="1"/>
<line x1="990.5" y1="487.7" x2="992" y2="487.7" stroke="#888" stroke-width="1"/><text x="993" y="490.2" font-size="7" font-weight="bold" fill="#222" textLength="17" lengthAdjust="spacingAndGlyphs">60.00</text><line x1="990.5" y1="459.4" x2="992" y2="459.4" stroke="#888" stroke-width="1"/><text x="993" y="461.9" font-size="7" font-weight="bold" fill="#222" textLength="17" lengthAdjust="spacingAndGlyphs">70.00</text><line x1="990.5" y1="431.1" x2="992" y2="431.1" stroke="#888" stroke-width="1"/><text x="993" y="433.6" font-size="7" font-weight="bold" fill="#222" textLength="17" lengthAdjust="spacingAndGlyphs">80.00</text><line x1="990.5" y1="402.8" x2="992" y2="402.8" stroke="#888" stroke-width="1"/><text x="993" y="405.3" font-size="7" font-weight="bold" fill="#222" textLength="17" lengthAdjust="spacingAndGlyphs">90.00</text><line x1="990.5" y1="374.5" x2="992" y2="374.5" stroke="#888" stroke-width="1"/><text x="993" y="377.0" font-size="7" font-weight="bold" fill="#222" textLength="20" lengthAdjust="spacingAndGlyphs">100.00</text><line x1="990.5" y1="346.1" x2="992" y2="346.1" stroke="#888" stroke-width="1"/><text x="993" y="348.6" font-size="7" font-weight="bold" fill="#222" textLength="20" lengthAdjust="spacingAndGlyphs">110.00</text><line x1="990.5" y1="317.8" x2="992" y2="317.8" stroke="#888" stroke-width="1"/><text x="993" y="320.3" font-size="7" font-weight="bold" fill="#222" textLength="20" lengthAdjust="spacingAndGlyphs">120.00</text><line x1="990.5" y1="289.5" x2="992" y2="289.5" stroke="#888" stroke-width="1"/><text x="993" y="292.0" font-size="7" font-weight="bold" fill="#222" textLength="20" lengthAdjust="spacingAndGlyphs">130.00</text><line x1="990.5" y1="261.2" x2="992" y2="261.2" stroke="#888" stroke-width="1"/><text x="993" y="263.7" font-size="7" font-weight="bold" fill="#222" textLength="20" lengthAdjust="spacingAndGlyphs">140.00</text><line x1="990.5" y1="232.9" x2="992" y2="232.9" stroke="#888" stroke-width="1"/><text x="993" y="235.4" font-size="7" font-weight="bold" fill="#222" textLength="20" lengthAdjust="spacingAndGlyphs">150.00</text><line x1="990.5" y1="204.6" x2="992" y2="204.6" stroke="#888" stroke-width="1"/><text x="993" y="207.1" font-size="7" font-weight="bold" fill="#222" textLength="20" lengthAdjust="spacingAndGlyphs">160.00</text><line x1="990.5" y1="176.3" x2="992" y2="176.3" stroke="#888" stroke-width="1"/><text x="993" y="178.8" font-size="7" font-weight="bold" fill="#222" textLength="20" lengthAdjust="spacingAndGlyphs">170.00</text><line x1="990.5" y1="148.0" x2="992" y2="148.0" stroke="#888" stroke-width="1"/><text x="993" y="150.5" font-size="7" font-weight="bold" fill="#222" textLength="20" lengthAdjust="spacingAndGlyphs">180.00</text><line x1="990.5" y1="119.7" x2="992" y2="119.7" stroke="#888" stroke-width="1"/><text x="993" y="122.2" font-size="7" font-weight="bold" fill="#222" textLength="20" lengthAdjust="spacingAndGlyphs">190.00</text><line x1="990.5" y1="91.4" x2="992" y2="91.4" stroke="#888" stroke-width="1"/><text x="993" y="93.9" font-size="7" font-weight="bold" fill="#222" textLength="20" lengthAdjust="spacingAndGlyphs">200.00</text><line x1="990.5" y1="63.1" x2="992" y2="63.1" stroke="#888" stroke-width="1"/><text x="993" y="65.6" font-size="7" font-weight="bold" fill="#222" textLength="20" lengthAdjust="spacingAndGlyphs">210.00</text><line x1="990.5" y1="34.7" x2="992" y2="34.7" stroke="#888" stroke-width="1"/><text x="993" y="37.2" font-size="7" font-weight="bold" fill="#222" textLength="20" lengthAdjust="spacingAndGlyphs">220.00</text>
<path d="M990.8 15 L994 11 L1020 11 L1020 19 L994 19 Z" fill="#666"/>
<text x="994.3" y="17.6" font-size="7" fill="#e8e8f0" textLength="19.8" lengthAdjust="spacingAndGlyphs">227.07</text>
<rect x="978" y="11" width="8" height="8" fill="#555"/>
<rect x="980.3" y="14.3" width="3.2" height="3" fill="none" stroke="#ddd" stroke-width="0.8"/><path d="M981.8 14.3 V12.6 H984.6 V15.5 H983.5" fill="none" stroke="#ddd" stroke-width="0.7"/>
<path d="M991.2 155.4 L994 152.3 L1020.3 152.3 L1020.3 158.6 L994 158.6 Z" fill="#000"/>
<text x="994" y="158" font-size="7" font-weight="bold" fill="#fff" textLength="20" lengthAdjust="spacingAndGlyphs">177.49</text>
<line x1="68.5" y1="509" x2="68.5" y2="510.5" stroke="#888"/><text x="68.5" y="519" text-anchor="middle" font-size="7.3" font-weight="bold" fill="#222" textLength="8.4" lengthAdjust="spacingAndGlyphs">Jul</text><line x1="106.5" y1="509" x2="106.5" y2="510.5" stroke="#888"/><text x="106.5" y="519" text-anchor="middle" font-size="7.3" font-weight="bold" fill="#222" textLength="11.4" lengthAdjust="spacingAndGlyphs">Aug</text><line x1="145.5" y1="509" x2="145.5" y2="510.5" stroke="#888"/><text x="145.5" y="519" text-anchor="middle" font-size="7.3" font-weight="bold" fill="#222" textLength="10.7" lengthAdjust="spacingAndGlyphs">Sep</text><line x1="183.6" y1="509" x2="183.6" y2="510.5" stroke="#888"/><text x="183.6" y="519" text-anchor="middle" font-size="7.3" font-weight="bold" fill="#222" textLength="9.7" lengthAdjust="spacingAndGlyphs">Oct</text><line x1="222.5" y1="509" x2="222.5" y2="510.5" stroke="#888"/><text x="222.5" y="519" text-anchor="middle" font-size="7.3" font-weight="bold" fill="#222" textLength="11.0" lengthAdjust="spacingAndGlyphs">Nov</text><line x1="259.5" y1="509" x2="259.5" y2="510.5" stroke="#888"/><text x="259.5" y="519" text-anchor="middle" font-size="7.3" font-weight="bold" fill="#222" textLength="10.7" lengthAdjust="spacingAndGlyphs">Dec</text><line x1="297.5" y1="509" x2="297.5" y2="510.5" stroke="#888"/><text x="297.5" y="519" text-anchor="middle" font-size="7.3" font-weight="bold" fill="#222" textLength="10.1" lengthAdjust="spacingAndGlyphs">Jan</text><line x1="332.5" y1="509" x2="332.5" y2="510.5" stroke="#888"/><text x="332.5" y="519" text-anchor="middle" font-size="7.3" font-weight="bold" fill="#222" textLength="10.4" lengthAdjust="spacingAndGlyphs">Feb</text><line x1="367" y1="509" x2="367" y2="510.5" stroke="#888"/><text x="367" y="519" text-anchor="middle" font-size="7.3" font-weight="bold" fill="#222" textLength="10.4" lengthAdjust="spacingAndGlyphs">Mar</text><line x1="408.25" y1="509" x2="408.25" y2="510.5" stroke="#888"/><text x="408.25" y="519" text-anchor="middle" font-size="7.3" font-weight="bold" fill="#222" textLength="10.1" lengthAdjust="spacingAndGlyphs">Apr</text><line x1="445" y1="509" x2="445" y2="510.5" stroke="#888"/><text x="445" y="519" text-anchor="middle" font-size="7.3" font-weight="bold" fill="#222" textLength="11.4" lengthAdjust="spacingAndGlyphs">May</text><line x1="482.5" y1="509" x2="482.5" y2="510.5" stroke="#888"/><text x="482.5" y="519" text-anchor="middle" font-size="7.3" font-weight="bold" fill="#222" textLength="10.4" lengthAdjust="spacingAndGlyphs">Jun</text><line x1="521.6" y1="509" x2="521.6" y2="510.5" stroke="#888"/><text x="521.6" y="519" text-anchor="middle" font-size="7.3" font-weight="bold" fill="#222" textLength="8.4" lengthAdjust="spacingAndGlyphs">Jul</text><line x1="559" y1="509" x2="559" y2="510.5" stroke="#888"/><text x="559" y="519" text-anchor="middle" font-size="7.3" font-weight="bold" fill="#222" textLength="11.4" lengthAdjust="spacingAndGlyphs">Aug</text><line x1="599.4" y1="509" x2="599.4" y2="510.5" stroke="#888"/><text x="599.4" y="519" text-anchor="middle" font-size="7.3" font-weight="bold" fill="#222" textLength="10.7" lengthAdjust="spacingAndGlyphs">Sep</text><line x1="636.9" y1="509" x2="636.9" y2="510.5" stroke="#888"/><text x="636.9" y="519" text-anchor="middle" font-size="7.3" font-weight="bold" fill="#222" textLength="9.7" lengthAdjust="spacingAndGlyphs">Oct</text><line x1="674.7" y1="509" x2="674.7" y2="510.5" stroke="#888"/><text x="674.7" y="519" text-anchor="middle" font-size="7.3" font-weight="bold" fill="#222" textLength="11.0" lengthAdjust="spacingAndGlyphs">Nov</text><line x1="712.2" y1="509" x2="712.2" y2="510.5" stroke="#888"/><text x="712.2" y="519" text-anchor="middle" font-size="7.3" font-weight="bold" fill="#222" textLength="10.7" lengthAdjust="spacingAndGlyphs">Dec</text>
<text x="6" y="507.4" font-size="5.8" fill="#555" textLength="35" lengthAdjust="spacingAndGlyphs">© eSignal, 2021</text>
<text x="5" y="518" font-size="7" fill="#bbb" textLength="10.5" lengthAdjust="spacingAndGlyphs">Dyn</text>
<rect x="18" y="511" width="7.8" height="7.8" fill="#505050"/><path d="M20.3 515 V513.6 A1.4 1.4 0 0 1 23.1 513.6" fill="none" stroke="#eee" stroke-width="0.8"/><rect x="20.6" y="515" width="3.6" height="2.6" fill="none" stroke="#eee" stroke-width="0.7"/>
<rect x="27.5" y="512" width="36.5" height="7.5" fill="#555"/>
<text x="28" y="518.3" font-size="7" fill="#eee" textLength="36" lengthAdjust="spacingAndGlyphs">2020-06-12</text>
<rect x="815" y="510" width="203" height="9.7" fill="#fff"/>
<text x="817.5" y="518.5" font-size="10.5" fill="#333" stroke="#222" stroke-width="0.3" textLength="198" lengthAdjust="spacingAndGlyphs">Elliott Wave Forecast Updated 12.21.2021</text>
</svg>
</body></html>
